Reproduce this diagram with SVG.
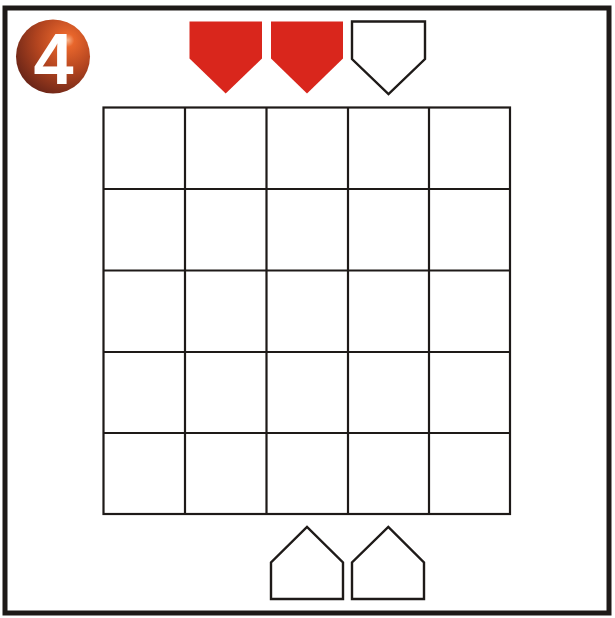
<svg xmlns="http://www.w3.org/2000/svg" width="615" height="618" viewBox="0 0 615 618">
<style>
.grid{fill:none;stroke:#1e1a18;stroke-width:2.2}
.red{fill:#d9261c;stroke:none}
.outline{fill:#fff;stroke:#1e1a18;stroke-width:2.4;stroke-linejoin:miter}
.num{font-family:"Liberation Sans",Arial,sans-serif;font-weight:bold;font-size:72px;fill:#fff}
</style>
<defs>
<radialGradient id="ball" cx="0.68" cy="0.3" r="0.75" fx="0.7" fy="0.28">
<stop offset="0" stop-color="#f7b38a"/>
<stop offset="0.12" stop-color="#e8662c"/>
<stop offset="0.55" stop-color="#b2441f"/>
<stop offset="1" stop-color="#6e2718"/>
</radialGradient>
</defs>
<rect x="0" y="0" width="615" height="618" fill="#fff"/>
<rect x="5" y="8" width="604" height="605" fill="#fff" stroke="#1e1a18" stroke-width="5"/>
<g id="badge">
<circle cx="53" cy="56.5" r="37" fill="url(#ball)"/>
<text class="num" x="53.5" y="83.5" text-anchor="middle">4</text>
</g>
<g id="grid">
<rect class="grid" x="103.5" y="107.5" width="406.5" height="406.5"/>
<path class="grid" d="M185 107.5V514M266.5 107.5V514M348 107.5V514M429 107.5V514M103.5 189H510M103.5 270.5H510M103.5 352H510M103.5 433H510"/>
</g>
<g id="top-markers">
<polygon id="red1" class="red" points="189.5,21.5 262,21.5 262,58.5 225.7,93.5 189.5,58.5"/>
<polygon id="red2" class="red" points="271,21.5 343,21.5 343,58.5 307,93.5 271,58.5"/>
<polygon id="white1" class="outline" points="352,21.5 425,21.5 425,59 388.5,94 352,59"/>
</g>
<g id="bottom-markers">
<polygon id="house1" class="outline" points="271,599 343,599 343,562.5 307,527 271,562.5"/>
<polygon id="house2" class="outline" points="352,599 424,599 424,562.5 388.3,527 352,562.5"/>
</g>
</svg>
